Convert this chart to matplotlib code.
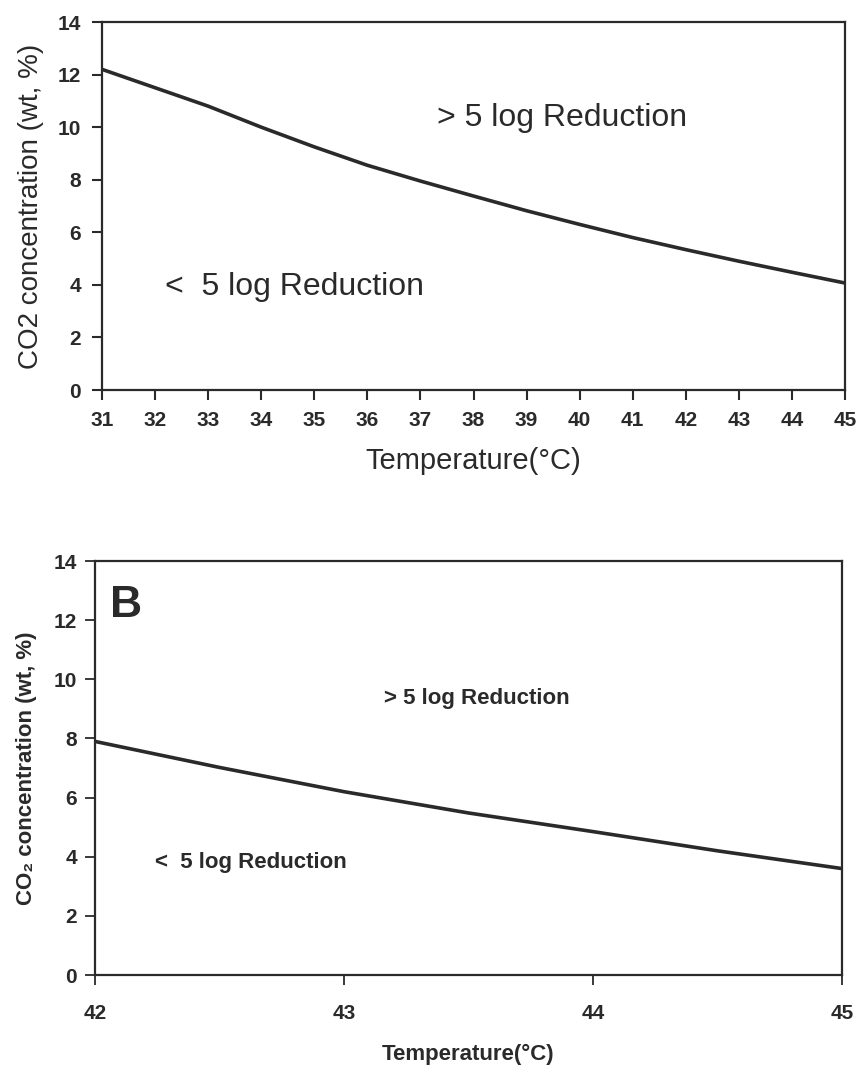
import matplotlib
matplotlib.use("Agg")
import matplotlib.pyplot as plt

# top panel: CO2 needed for 5-log reduction vs temperature (31-45 C)
top_temp = [31, 32, 33, 34, 35, 36, 37, 38, 39, 40, 41, 42, 43, 44, 45]
top_co2 = [12.2, 11.5, 10.8, 10.0, 9.25, 8.55, 7.95, 7.38, 6.82, 6.3, 5.8, 5.34, 4.9, 4.48, 4.07]

# bottom panel (B): 42-45 C
bot_temp = [42, 42.5, 43, 43.5, 44, 44.5, 45]
bot_co2 = [7.9, 7.02, 6.2, 5.48, 4.85, 4.2, 3.6]

top_xticks = list(range(31, 46))
bot_xticks = [42, 43, 44, 45]
yticks = [0, 2, 4, 6, 8, 10, 12, 14]

plt.rcParams['font.family'] = ['Liberation Sans', 'DejaVu Sans']

fig = plt.figure(figsize=(8.61, 10.65), dpi=100)
ax1 = fig.add_axes([0.1185, 0.6338, 0.863, 0.3455])
ax2 = fig.add_axes([0.1103, 0.0845, 0.8676, 0.3887])

ink = '#2a2a2a'

# --- top ---
ax1.plot(top_temp, top_co2, color=ink, lw=2.6, solid_capstyle='butt')
ax1.set_xlim(31, 45)
ax1.set_ylim(0, 14)
ax1.set_xticks(top_xticks)
ax1.set_yticks(yticks)
ax1.tick_params(direction='out', length=7, width=1.5, colors=ink, labelsize=15, pad=8)
for lab in ax1.get_xticklabels() + ax1.get_yticklabels():
    lab.set_fontweight('bold')
ax1.set_xlabel('Temperature(°C)', fontsize=21, color=ink, labelpad=12)
ax1.set_ylabel('CO2 concentration (wt, %)', fontsize=20, color=ink, labelpad=10)
ax1.text(37.31, 10.35, '> 5 log Reduction', fontsize=23, color=ink, va='center')
ax1.text(32.19, 3.92, '<  5 log Reduction', fontsize=23, color=ink, va='center')

# --- bottom ---
ax2.plot(bot_temp, bot_co2, color=ink, lw=2.6, solid_capstyle='butt')
ax2.set_xlim(42, 45)
ax2.set_ylim(0, 14)
ax2.set_xticks(bot_xticks)
ax2.set_yticks(yticks)
ax2.tick_params(direction='out', length=7, width=1.3, colors=ink, labelsize=15)
ax2.tick_params(axis='x', pad=14)
ax2.tick_params(axis='y', pad=6)
for lab in ax2.get_xticklabels() + ax2.get_yticklabels():
    lab.set_fontweight('bold')
ax2.set_xlabel('Temperature(°C)', fontsize=16, fontweight='bold', color=ink, labelpad=15)
ax2.set_ylabel('CO₂ concentration (wt, %)', fontsize=16, fontweight='bold', color=ink, labelpad=12)
ax2.text(42.06, 12.5, 'B', fontsize=32, fontweight='bold', color=ink, va='center')
ax2.text(43.16, 9.36, '> 5 log Reduction', fontsize=16, fontweight='bold', color=ink, va='center')
ax2.text(42.24, 3.82, '<  5 log Reduction', fontsize=16, fontweight='bold', color=ink, va='center')

for ax in (ax1, ax2):
    for sp in ax.spines.values():
        sp.set_linewidth(1.6)
        sp.set_color(ink)

fig.savefig('out.png', dpi=100)
